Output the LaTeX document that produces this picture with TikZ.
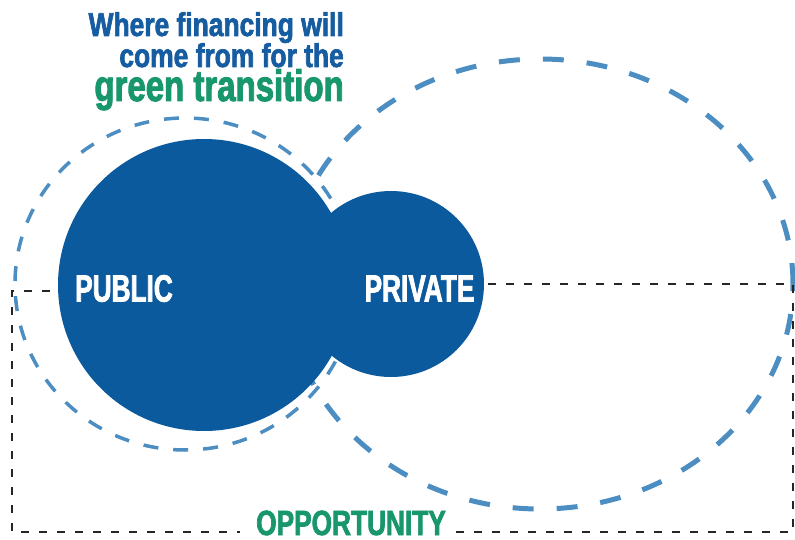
\documentclass[tikz,border=0pt]{standalone}
\usepackage{fontspec}
\newfontfamily\headfont[FakeStretch=0.69,FakeBold=2]{Liberation Sans}
\newfontfamily\greenfont[FakeStretch=0.75,FakeBold=2]{Liberation Sans}
\newfontfamily\titlefont[FakeStretch=0.8,FakeBold=2]{Liberation Sans}
\definecolor{discblue}{RGB}{12,90,158}
\definecolor{dashblue}{RGB}{76,141,194}
\definecolor{titleblue}{RGB}{22,92,160}
\definecolor{titlegreen}{RGB}{24,150,108}
\tikzset{%
    disc/.style={circle,fill=discblue,inner sep=0pt,outer sep=0pt},
    ring/.style={dashblue,line width=3.5pt,dash pattern=on 15pt off 15pt},
    bigring/.style={dashblue,line width=5pt,dash pattern=on 21pt off 23pt},
    oppframe/.style={black!85,line width=1.6pt,dash pattern=on 8pt off 10pt},
    disctext/.style={text=white,inner sep=0pt,font=\headfont\bfseries\fontsize{38}{38}\selectfont},
    bluetitle/.style={text=titleblue,inner sep=0pt,anchor=base east,font=\titlefont\bfseries\fontsize{33}{33}\selectfont},
    greentitle/.style={text=titlegreen,inner sep=0pt,anchor=base east,font=\greenfont\bfseries\fontsize{44}{44}\selectfont},
}

\begin{document}
\begin{tikzpicture}[x=1pt,y=-1pt]

	\useasboundingbox (0,0) rectangle (795,540);

	%dashed rings
	\draw[bigring]  (540,284) ellipse [x radius=253pt, y radius=225pt];
	\draw[ring]  (185,284) ellipse [x radius=170pt, y radius=166pt];
	%%%%%%%%%%%%%%%%%%%

	\node[disc,minimum size=292pt] (public) at (204,285) {};
	\node[disc,minimum size=186pt] (private) at (391,284) {};

	\node[disctext] (publictxt) at (124,288.5) {PUBLIC};
	\node[disctext] (privatetxt) at (419.5,288.5) {PRIVATE};

	%title
	\node[bluetitle] (line1) at (344,36) {Where financing will};
	\node[bluetitle] (line2) at (344,67) {come from for the};
	\node[greentitle] (line3) at (344,101) {green transition};

	%opportunity frame
	\node[text=titlegreen,inner sep=0pt,anchor=base,font=\greenfont\bfseries\fontsize{35}{35}\selectfont] (opp) at (351,535) {OPPORTUNITY};
	\coordinate (fa) at (50,291);
	\coordinate (fb) at (240,532);
	\coordinate (fc) at (456,532);
	\coordinate (fd) at (488,284);
	\draw[oppframe] (fa) -| (12,532) -- (fb);
	\draw[oppframe] (fc) -- (793,532) |- (fd);
	%%%%%%%%%%%%%%%%%%%%

\end{tikzpicture}
\end{document}
